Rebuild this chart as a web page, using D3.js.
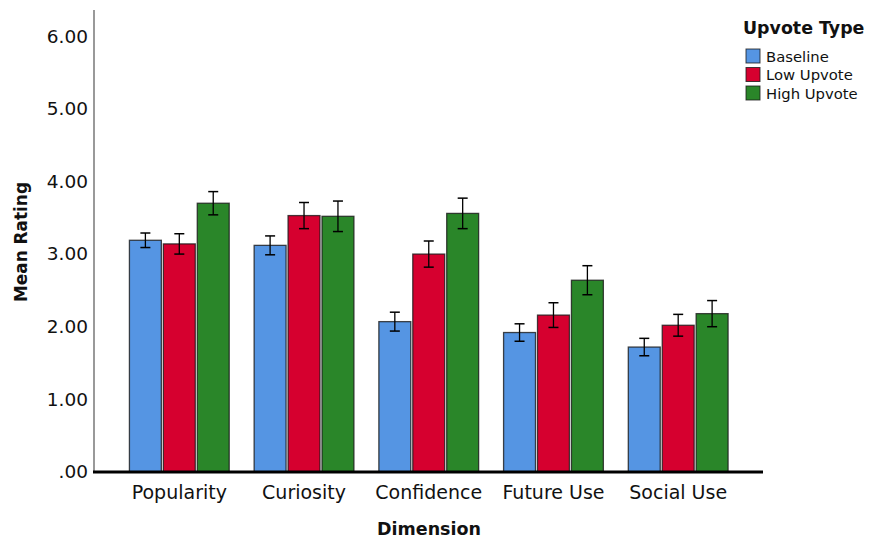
<!DOCTYPE html>
<html>
<head>
<meta charset="utf-8">
<script src="https://cdn.jsdelivr.net/npm/d3@7"></script>
<style>
  html, body { margin: 0; padding: 0; background: #fff; }
  svg { display: block; font-family: "DejaVu Sans", sans-serif; }
</style>
</head>
<body>
<svg id="chart" width="869" height="539"></svg>
<script>
// Dimensions rated, and the three upvote conditions
const categories = ["Popularity", "Curiosity", "Confidence", "Future Use", "Social Use"];
const seriesNames = ["Baseline", "Low Upvote", "High Upvote"];
const seriesColors = ["#5595E3", "#D6002F", "#2A8629"];

// Mean rating per dimension, one array per condition
const baselineMeans = [3.19, 3.12, 2.07, 1.92, 1.72];
const lowUpvoteMeans = [3.14, 3.53, 3.00, 2.16, 2.02];
const highUpvoteMeans = [3.70, 3.52, 3.56, 2.64, 2.18];

// Half-width of the error bars (95% CI)
const baselineErr = [0.10, 0.13, 0.13, 0.12, 0.12];
const lowUpvoteErr = [0.14, 0.18, 0.18, 0.17, 0.15];
const highUpvoteErr = [0.16, 0.21, 0.21, 0.20, 0.18];

const yTicks = [0, 1, 2, 3, 4, 5, 6];

const means = [baselineMeans, lowUpvoteMeans, highUpvoteMeans];
const errs = [baselineErr, lowUpvoteErr, highUpvoteErr];

const rows = [];
categories.forEach((c, ci) => {
  seriesNames.forEach((s, si) => {
    rows.push({ category: c, series: s, value: means[si][ci], err: errs[si][ci], color: seriesColors[si] });
  });
});

const svg = d3.select("#chart");

const x0 = d3.scaleBand().domain(categories).range([94.5, 763]).paddingInner(0.2).paddingOuter(0.28);
const x1 = d3.scaleBand().domain(seriesNames).range([0, x0.bandwidth()]).paddingInner(0.0588);
const y = d3.scaleLinear().domain([0, 6.36]).range([472, 10]);

// Y axis line (no tick marks)
svg.append("line")
  .attr("x1", 94).attr("x2", 94)
  .attr("y1", y(0)).attr("y2", y(6.36))
  .attr("stroke", "#777").attr("stroke-width", 1.5);

// Y tick labels
const yAxis = d3.axisLeft(y).tickValues(yTicks).tickSize(0).tickPadding(6)
  .tickFormat(d => d === 0 ? ".00" : d3.format(".2f")(d));
const yg = svg.append("g").attr("transform", "translate(94,0)").call(yAxis);
yg.select(".domain").remove();
yg.selectAll("text")
  .attr("font-family", "DejaVu Sans, sans-serif")
  .attr("font-size", 18.5)
  .attr("fill", "#111");

// Bars
const groups = svg.append("g").selectAll("g")
  .data(categories)
  .join("g")
  .attr("transform", d => `translate(${x0(d)},0)`);

groups.selectAll("rect")
  .data(c => rows.filter(r => r.category === c))
  .join("rect")
  .attr("x", d => x1(d.series))
  .attr("y", d => y(d.value))
  .attr("width", x1.bandwidth())
  .attr("height", d => y(0) - y(d.value))
  .attr("fill", d => d.color)
  .attr("stroke", "#1a1a1a")
  .attr("stroke-opacity", 0.8)
  .attr("stroke-width", 1.3);

// Error bars
const eb = groups.selectAll("g.err")
  .data(c => rows.filter(r => r.category === c))
  .join("g")
  .attr("class", "err")
  .attr("transform", d => `translate(${x1(d.series) + x1.bandwidth() / 2},0)`);
eb.append("line")
  .attr("x1", 0).attr("x2", 0)
  .attr("y1", d => y(d.value + d.err)).attr("y2", d => y(d.value - d.err))
  .attr("stroke", "#000").attr("stroke-width", 1.3);
eb.append("line")
  .attr("x1", -5).attr("x2", 5)
  .attr("y1", d => y(d.value + d.err)).attr("y2", d => y(d.value + d.err))
  .attr("stroke", "#000").attr("stroke-width", 1.5);
eb.append("line")
  .attr("x1", -5).attr("x2", 5)
  .attr("y1", d => y(d.value - d.err)).attr("y2", d => y(d.value - d.err))
  .attr("stroke", "#000").attr("stroke-width", 1.5);

// Baseline (x axis)
svg.append("line")
  .attr("x1", 93).attr("x2", 763)
  .attr("y1", y(0)).attr("y2", y(0))
  .attr("stroke", "#000").attr("stroke-width", 3);

// Category labels
const xAxis = d3.axisBottom(x0).tickSize(0).tickPadding(14);
const xg = svg.append("g").attr("transform", `translate(0,${y(0)})`).call(xAxis);
xg.select(".domain").remove();
xg.selectAll("text")
  .attr("font-family", "DejaVu Sans, sans-serif")
  .attr("font-size", 19)
  .attr("fill", "#111");

// Axis titles
svg.append("text")
  .attr("x", 429).attr("y", 535)
  .attr("text-anchor", "middle")
  .attr("font-weight", "bold")
  .attr("font-size", 17.5)
  .attr("fill", "#111")
  .text("Dimension");

svg.append("text")
  .attr("transform", "translate(27,242) rotate(-90)")
  .attr("text-anchor", "middle")
  .attr("font-weight", "bold")
  .attr("font-size", 16.9)
  .attr("fill", "#111")
  .text("Mean Rating");

// Legend
const legend = svg.append("g");
legend.append("text")
  .attr("x", 743).attr("y", 34)
  .attr("font-weight", "bold")
  .attr("font-size", 17.4)
  .attr("fill", "#111")
  .text("Upvote Type");

const items = legend.selectAll("g.item")
  .data(seriesNames)
  .join("g")
  .attr("class", "item")
  .attr("transform", (d, i) => `translate(746,${49 + i * 18.5})`);
items.append("rect")
  .attr("width", 14).attr("height", 14)
  .attr("fill", (d, i) => seriesColors[i])
  .attr("stroke", "#1a1a1a").attr("stroke-opacity", 0.8).attr("stroke-width", 1);
items.append("text")
  .attr("x", 20).attr("y", 12.5)
  .attr("font-size", 14.8)
  .attr("fill", "#111")
  .text(d => d);
</script>
</body>
</html>
